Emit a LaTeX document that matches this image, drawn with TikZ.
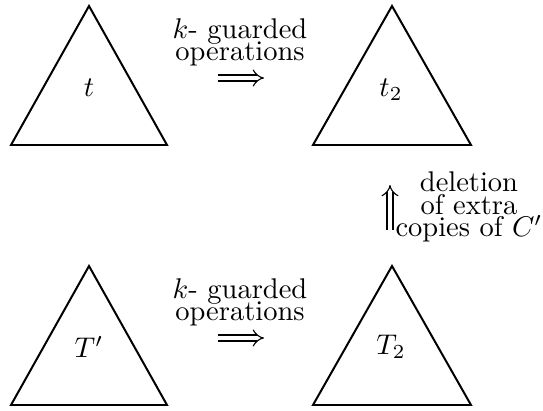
\documentclass[tikz,border=0pt]{standalone}
\usetikzlibrary{arrows.meta}
\begin{document}
\begin{tikzpicture}[x=0.351pt,y=-0.351pt,
  tri/.style={line width=0.7pt, line join=miter},
  lbl/.style={inner sep=0pt, font=\fontsize{10}{12}\selectfont},
  stack/.style={inner sep=0pt, align=center,
    font={\fontsize{10}{7.8}\selectfont\lineskiplimit=-10pt}},
  implies/.style={double, double distance=1.7pt, line width=0.4pt, -{Implies}}]
\useasboundingbox (0,0) rectangle (543,411);
% triangles
\draw[tri] (89,6) -- (11,145) -- (167,145) -- cycle;
\draw[tri] (392,6) -- (313,145) -- (471,145) -- cycle;
\draw[tri] (89,266) -- (11,405) -- (167,405) -- cycle;
\draw[tri] (392,266) -- (313,405) -- (471,405) -- cycle;
% labels
\node[lbl] (t) at (89,88) {$t$};
\node[lbl] (t2) at (391,90) {$t_2$};
\node[lbl] (Tp) at (89,347) {$T'$};
\node[lbl] (T2) at (391,347) {$T_2$};
% top operation
\node[stack] (op1) at (240,42) {$k$- guarded\\operations};
\coordinate (a1s) at (218,78);
\coordinate (a1e) at (264,78);
\draw[implies] (a1s) -- (a1e);
% bottom operation
\node[stack] (op2) at (240,302) {$k$- guarded\\operations};
\coordinate (a2s) at (218,338);
\coordinate (a2e) at (264,338);
\draw[implies] (a2s) -- (a2e);
% deletion
\node[stack] (del) at (469,207) {deletion\\of extra\\copies of $C'$};
\coordinate (a3s) at (390,230);
\coordinate (a3e) at (390,185);
\draw[implies] (a3s) -- (a3e);
\end{tikzpicture}
\end{document}
